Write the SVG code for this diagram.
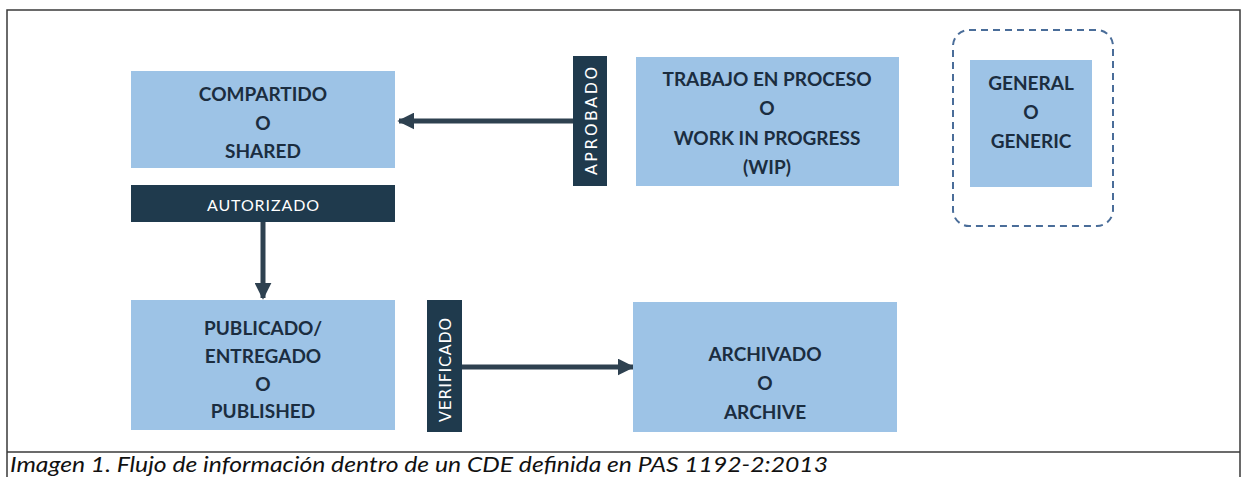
<svg xmlns="http://www.w3.org/2000/svg" width="1245" height="477" viewBox="0 0 1245 477">
<defs>
<style>
.box{fill:#9dc3e6}
.bar{fill:#1f3a4d}
.t{font-family:Lato,"Open Sans","Liberation Sans",sans-serif;font-size:19px;font-weight:bold;fill:#1b2d40;text-anchor:middle;dominant-baseline:central}
.lt{font-family:"DejaVu Sans","Open Sans",sans-serif;font-size:16px;fill:#ffffff;text-anchor:middle;dominant-baseline:central}
.conn{stroke:#2e4150;stroke-width:5;fill:none}
.frame{stroke:#3a3a3a;stroke-width:1.5;fill:none}
</style>
<marker id="ah" viewBox="0 0 10 10" refX="9" refY="5" markerWidth="3.4" markerHeight="3.4" orient="auto" markerUnits="strokeWidth">
<path d="M0,0 L10,5 L0,10 Z" fill="#2e4150"/>
</marker>
</defs>
<rect width="1245" height="477" fill="#ffffff"/>
<g id="frame">
<path class="frame" d="M7,477 L7,10 L1240,10 L1240,477"/>
<path class="frame" d="M7,452 L1240,452"/>
</g>
<g id="connectors">
<path class="conn" d="M573,121 L399,121" marker-end="url(#ah)"/>
<path class="conn" d="M263,222 L263,298" marker-end="url(#ah)"/>
<path class="conn" d="M462,367 L633,367" marker-end="url(#ah)"/>
</g>
<g id="node-compartido">
<rect class="box" x="131" y="71" width="264" height="97"/>
<text class="t" x="263" y="93">COMPARTIDO</text>
<text class="t" x="263" y="122">O</text>
<text class="t" x="263" y="150">SHARED</text>
</g>
<g id="label-autorizado">
<rect class="bar" x="131" y="185" width="264" height="37"/>
<text x="263" y="204" font-family="Lato,sans-serif" font-size="16" fill="#ffffff" text-anchor="middle" dominant-baseline="central" textLength="112" lengthAdjust="spacing">AUTORIZADO</text>
</g>
<g id="label-aprobado">
<rect class="bar" x="573" y="56" width="34" height="130"/>
<text class="lt" transform="translate(591,121) rotate(-90)" x="0" y="0" textLength="108" lengthAdjust="spacing">APROBADO</text>
</g>
<g id="node-wip">
<rect class="box" x="636" y="57" width="263" height="129"/>
<text class="t" x="767" y="78">TRABAJO EN PROCESO</text>
<text class="t" x="767" y="107">O</text>
<text class="t" x="767" y="137">WORK IN PROGRESS</text>
<text class="t" x="767" y="166">(WIP)</text>
</g>
<g id="node-general">
<rect x="953" y="30" width="160" height="196" rx="16" fill="none" stroke="#4a6d99" stroke-width="2" stroke-dasharray="7,5"/>
<rect class="box" x="970" y="60" width="122" height="127"/>
<text class="t" x="1031" y="82">GENERAL</text>
<text class="t" x="1031" y="111">O</text>
<text class="t" x="1031" y="140">GENERIC</text>
</g>
<g id="node-publicado">
<rect class="box" x="131" y="300" width="264" height="130"/>
<text class="t" x="263" y="327">PUBLICADO/</text>
<text class="t" x="263" y="355">ENTREGADO</text>
<text class="t" x="263" y="383">O</text>
<text class="t" x="263" y="410">PUBLISHED</text>
</g>
<g id="label-verificado">
<rect class="bar" x="427" y="300" width="35" height="132"/>
<text class="lt" transform="translate(445,370) rotate(-90)" x="0" y="0" textLength="104" lengthAdjust="spacing">VERIFICADO</text>
</g>
<g id="node-archivado">
<rect class="box" x="633" y="302" width="264" height="130"/>
<text class="t" x="765" y="353">ARCHIVADO</text>
<text class="t" x="765" y="382">O</text>
<text class="t" x="765" y="411">ARCHIVE</text>
</g>
<text x="10" y="472" font-family="Lato,'Open Sans',sans-serif" font-style="italic" font-size="21" fill="#111111" textLength="818" lengthAdjust="spacingAndGlyphs">Imagen 1. Flujo de información dentro de un CDE definida en PAS 1192-2:2013</text>
</svg>
